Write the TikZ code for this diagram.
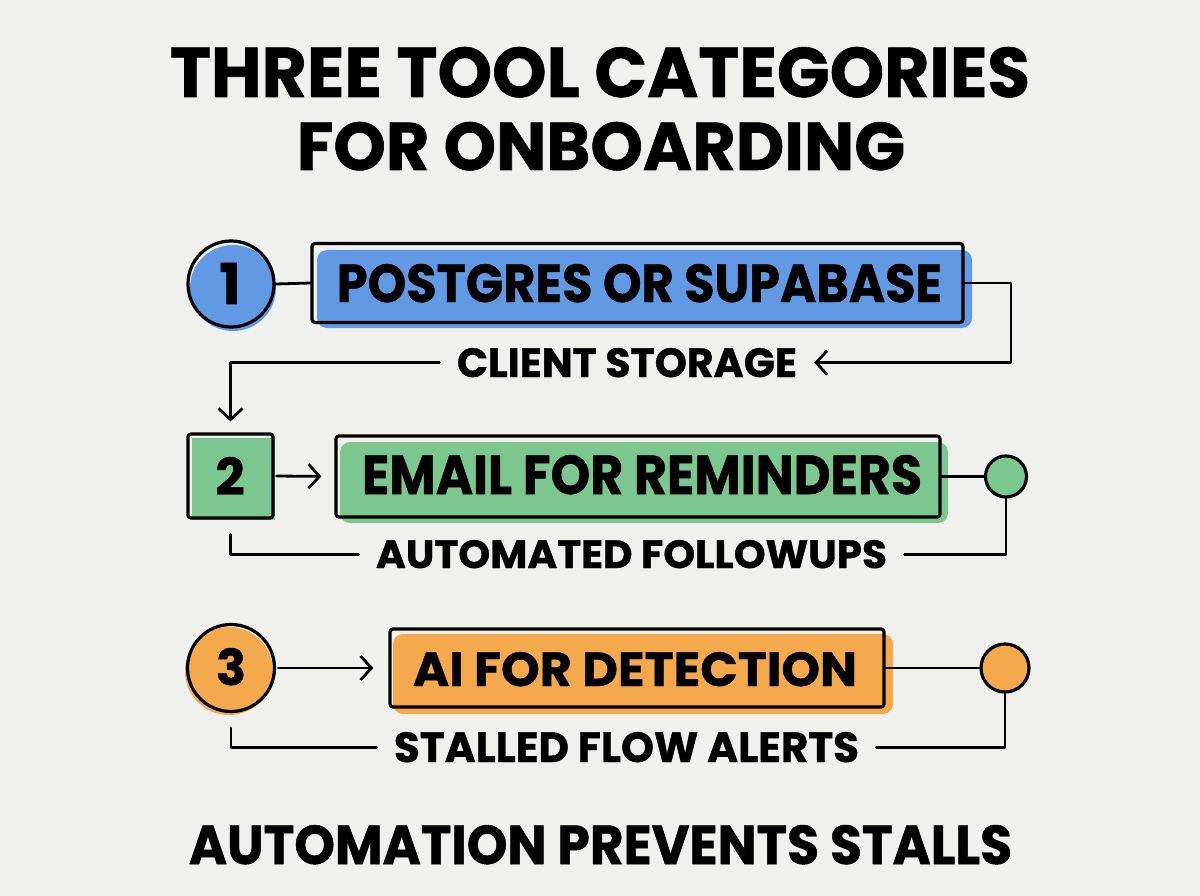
\documentclass[tikz,border=0pt]{standalone}
\usepackage{fontspec}
\setmainfont{Poppins}
\newfontfamily\heavy{Poppins}[UprightFeatures={FakeBold=0.9}, BoldFeatures={FakeBold=0.9}]
\usepackage{graphicx}
\usetikzlibrary{arrows.meta}
\definecolor{bgc}{HTML}{F0F0EE}
\definecolor{cblue}{HTML}{6199E3}
\definecolor{cgreen}{HTML}{7CC68F}
\definecolor{corange}{HTML}{F4A94C}
\newcommand\fitt[3]{\resizebox{#1pt}{#2pt}{\heavy\bfseries #3}}
\newcommand\digt[2]{\resizebox{!}{#1pt}{\heavy\bfseries #2}}
\begin{document}
\begin{tikzpicture}[x=1pt,y=-1pt,
  txt/.style={inner sep=0pt, anchor=base},
  lab/.style={inner xsep=17pt, inner ysep=0pt, anchor=base},
  ln/.style={line width=2.8pt, line join=round, line cap=round},
  arr/.style={ln, -{Straight Barb[length=11pt,width=24pt,line width=2.8pt]}},
  outl/.style={draw, line width=3.2pt, inner sep=0pt},
  bx/.style={outl, rectangle, rounded corners=3pt},
  cir/.style={outl, circle}
]
\fill[bgc] (0,0) rectangle (1200,896);
\useasboundingbox (0,0) rectangle (1200,896);

% title
\node[txt] (t1) at (600,97) {\fitt{860}{50}{THREE TOOL CATEGORIES}};
\node[txt] (t2) at (601,170) {\fitt{608}{48}{FOR ONBOARDING}};

% row 1
\fill[cblue] (233,288) circle[radius=43pt];
\node[cir, minimum size=86pt] (c1) at (231,284) {};
\node[txt] (n1) at (230,304) {\digt{41}{1}};
\fill[cblue, rounded corners=10pt] (317,250) rectangle (972,328);
\node[bx, minimum width=651pt, minimum height=79pt] (b1) at (637.5,283) {};
\node[txt] (b1t) at (639.5,302) {\fitt{605}{38}{POSTGRES OR SUPABASE}};
\node[lab] (cs) at (627,377) {\fitt{340}{29}{CLIENT STORAGE}};

% row 2
\fill[cgreen] (192,438) rectangle (275,520);
\node[bx, minimum width=85pt, minimum height=84pt] (s2) at (230.5,476) {};
\node[txt] (n2) at (230,495) {\digt{38}{2}};
\fill[cgreen, rounded corners=10pt] (340,442) rectangle (948,523);
\node[bx, minimum width=604pt, minimum height=81pt] (b2) at (638,476.5) {};
\node[txt] (b2t) at (642,494) {\fitt{560}{39}{EMAIL FOR REMINDERS}};
\fill[cgreen] (1007,477) circle[radius=20pt];
\node[cir, minimum size=41pt] (d2) at (1006,476.5) {};
\node[lab] (af) at (631.5,568) {\fitt{511}{28}{AUTOMATED FOLLOWUPS}};

% row 3
\fill[corange] (229,671) circle[radius=44pt];
\node[cir, minimum size=87pt] (c3) at (231,668) {};
\node[txt] (n3) at (231,685) {\digt{37}{3}};
\fill[corange, rounded corners=10pt] (393,634) rectangle (893,714);
\node[bx, minimum width=494pt, minimum height=78pt] (b3) at (637,668) {};
\node[txt] (b3t) at (635,686) {\fitt{444}{34}{AI FOR DETECTION}};
\fill[corange] (1006,669) circle[radius=24pt];
\node[cir, minimum size=48pt] (d3) at (1005,668) {};
\node[lab] (sf) at (626.5,762) {\fitt{465}{30}{STALLED FLOW ALERTS}};

% bottom
\node[txt] (bt) at (600.5,864) {\fitt{823}{39}{AUTOMATION PREVENTS STALLS}};

% connectors
\draw[ln] (c1.east) -- (b1.west);
\draw[arr] (b1.east) -- (1011,283) |- (cs.east);
\draw[arr, shorten >=11pt] (cs.west) -| (s2.north);

\draw[arr, shorten <=2pt, shorten >=13pt] (s2.east) -- (b2.west);
\draw[ln] (b2.east) -- (d2.west);
\draw[ln] (d2.south) |- (af.east);
\draw[ln, shorten >=15pt] (af.west) -| (s2.south);

\draw[arr, shorten <=2pt, shorten >=15pt] (c3.east) -- (b3.west);
\draw[ln] (b3.east) -- (d3.west);
\draw[ln] (d3.south) |- (sf.east);
\draw[ln, shorten >=15pt] (sf.west) -| (c3.south);
\end{tikzpicture}
\end{document}
